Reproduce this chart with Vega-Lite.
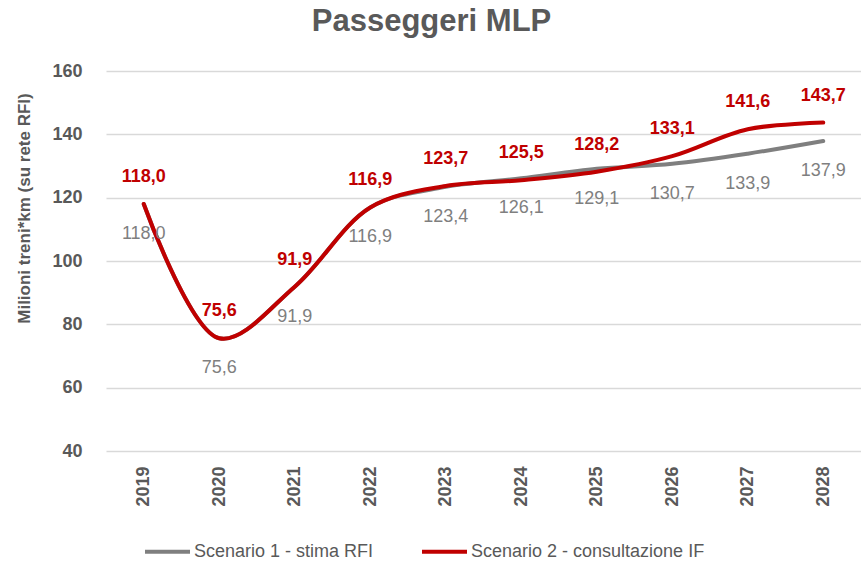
{
  "$schema": "https://vega.github.io/schema/vega-lite/v6.json",
  "autosize": {"type": "none"},
  "padding": {"left": 106, "top": 71, "right": 0, "bottom": 119},
  "width": 755,
  "height": 380,
  "background": "white",
  "title": {"text": "Passeggeri MLP", "font": "Liberation Sans", "fontSize": 31, "fontWeight": "bold", "color": "#595959", "anchor": "middle", "dx": -52, "offset": 24},
  "config": {
    "view": {"stroke": null},
    "locale": {"number": {"decimal": ",", "thousands": ".", "grouping": [3], "currency": ["€", ""]}},
    "font": "Liberation Sans"
  },
  "data": {"values": [
    {"year": "2019", "scenario": "Scenario 1 - stima RFI", "value": 118.0},
    {"year": "2020", "scenario": "Scenario 1 - stima RFI", "value": 75.6},
    {"year": "2021", "scenario": "Scenario 1 - stima RFI", "value": 91.9},
    {"year": "2022", "scenario": "Scenario 1 - stima RFI", "value": 116.9},
    {"year": "2023", "scenario": "Scenario 1 - stima RFI", "value": 123.4},
    {"year": "2024", "scenario": "Scenario 1 - stima RFI", "value": 126.1},
    {"year": "2025", "scenario": "Scenario 1 - stima RFI", "value": 129.1},
    {"year": "2026", "scenario": "Scenario 1 - stima RFI", "value": 130.7},
    {"year": "2027", "scenario": "Scenario 1 - stima RFI", "value": 133.9},
    {"year": "2028", "scenario": "Scenario 1 - stima RFI", "value": 137.9},
    {"year": "2019", "scenario": "Scenario 2 - consultazione IF", "value": 118.0},
    {"year": "2020", "scenario": "Scenario 2 - consultazione IF", "value": 75.6},
    {"year": "2021", "scenario": "Scenario 2 - consultazione IF", "value": 91.9},
    {"year": "2022", "scenario": "Scenario 2 - consultazione IF", "value": 116.9},
    {"year": "2023", "scenario": "Scenario 2 - consultazione IF", "value": 123.7},
    {"year": "2024", "scenario": "Scenario 2 - consultazione IF", "value": 125.5},
    {"year": "2025", "scenario": "Scenario 2 - consultazione IF", "value": 128.2},
    {"year": "2026", "scenario": "Scenario 2 - consultazione IF", "value": 133.1},
    {"year": "2027", "scenario": "Scenario 2 - consultazione IF", "value": 141.6},
    {"year": "2028", "scenario": "Scenario 2 - consultazione IF", "value": 143.7}
  ]},
  "encoding": {
    "x": {"field": "year", "type": "ordinal", "scale": {"type": "point", "padding": 0.5},
      "axis": {"title": null, "domain": false, "ticks": false, "tickSize": 0, "labelAngle": 270, "labelAlign": "right", "labelBaseline": "middle", "labelPadding": 15, "labelFont": "Liberation Sans", "labelFontSize": 18, "labelFontWeight": "bold", "labelColor": "#595959", "grid": false}},
    "y": {"field": "value", "type": "quantitative", "scale": {"domain": [40, 160], "nice": false, "zero": false},
      "axis": {"values": [40, 60, 80, 100, 120, 140, 160], "title": "Milioni treni*km (su rete RFI)", "titleFont": "Liberation Sans", "titleFontSize": 17, "titleFontWeight": "bold", "titleColor": "#595959", "titleX": -82, "titleY": 137, "titleAngle": 270, "titleAlign": "center", "titleBaseline": "middle", "domain": false, "ticks": false, "tickSize": 0, "labelPadding": 24, "labelFont": "Liberation Sans", "labelFontSize": 18, "labelFontWeight": "bold", "labelColor": "#595959", "gridColor": "#d9d9d9", "gridWidth": 1.3}}
  },
  "layer": [
    {
      "mark": {"type": "line", "interpolate": "catmull-rom", "strokeWidth": 4, "strokeCap": "round"},
      "encoding": {
        "color": {"field": "scenario", "type": "nominal",
          "scale": {"domain": ["Scenario 1 - stima RFI", "Scenario 2 - consultazione IF"], "range": ["#7f7f7f", "#c00000"]},
          "legend": {"title": null, "orient": "none", "direction": "horizontal", "legendX": 37, "legendY": 456, "symbolType": "stroke", "symbolSize": 2025, "symbolStrokeWidth": 4, "labelFont": "Liberation Sans", "labelFontSize": 18, "labelColor": "#595959", "labelOffset": 2, "labelLimit": 400, "columnPadding": 40, "padding": 0}}
      }
    },
    {
      "transform": [{"filter": "datum.scenario == 'Scenario 1 - stima RFI'"}],
      "mark": {"type": "text", "dy": 30, "font": "Liberation Sans", "fontSize": 18, "color": "#7f7f7f"},
      "encoding": {"text": {"field": "value", "type": "quantitative", "format": ".1f"}}
    },
    {
      "transform": [{"filter": "datum.scenario == 'Scenario 2 - consultazione IF'"}],
      "mark": {"type": "text", "dy": -27, "font": "Liberation Sans", "fontSize": 18, "fontWeight": "bold", "color": "#c00000"},
      "encoding": {"text": {"field": "value", "type": "quantitative", "format": ".1f"}}
    }
  ]
}
